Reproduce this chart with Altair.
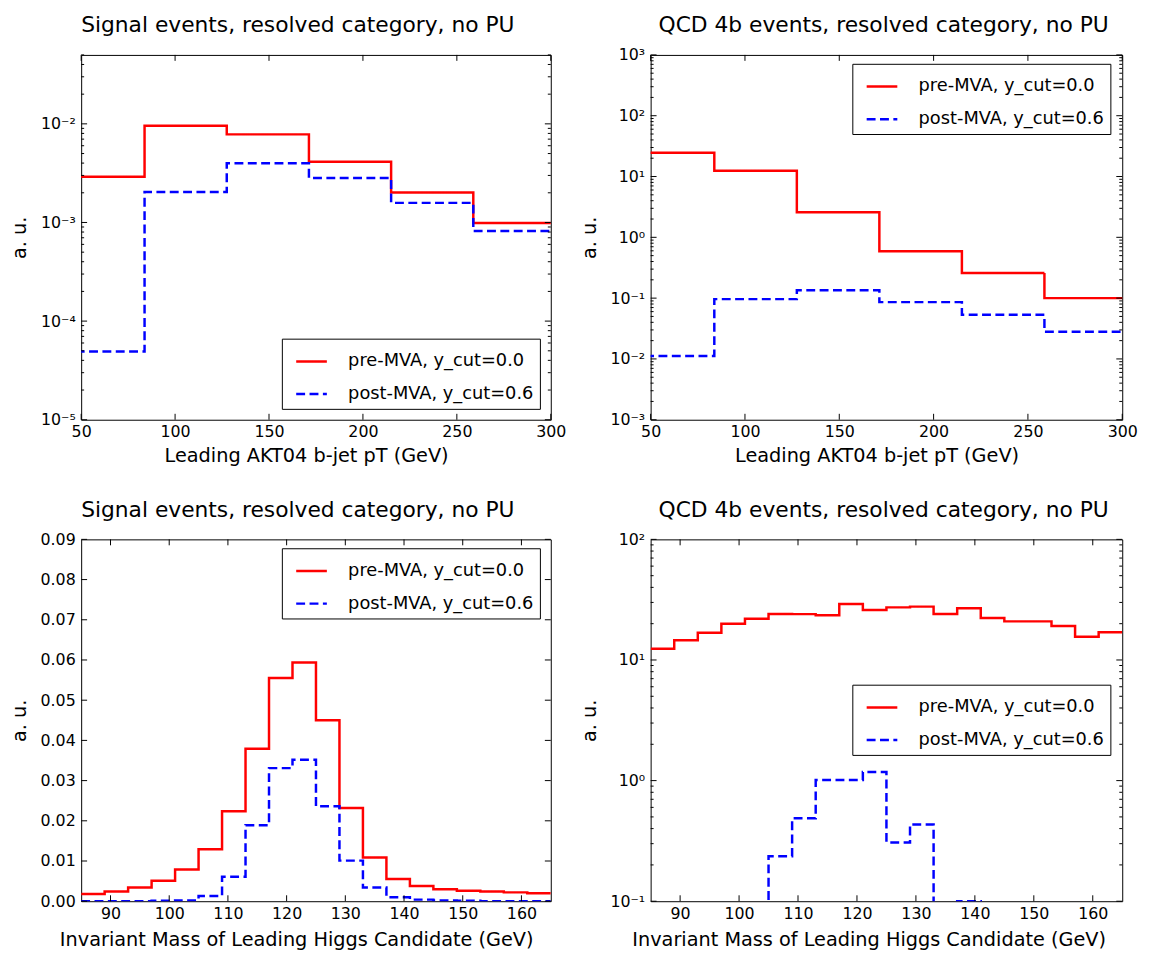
import altair as alt
import pandas as pd

FONT = "DejaVu Sans"
PRE = "pre-MVA, y_cut=0.0"
POST = "post-MVA, y_cut=0.6"
SERIES = [PRE, POST]
COLORS = ["#ff0000", "#0000ff"]
DASHES = [[1, 0], [9, 4.5]]

# ---- data ----
pt_edges = [40.0, 83.75, 127.5, 171.25, 215.0, 258.75, 302.5]
sig_pt_pre = [0.00291, 0.00955, 0.00782, 0.00412, 0.00201, 0.00099]
sig_pt_post = [0.0000492, 0.00204, 0.00399, 0.00282, 0.00158, 0.00082]
qcd_pt_pre = [24.6, 12.4, 2.59, 0.59, 0.259, 0.100]
qcd_pt_post = [0.0112, 0.0963, 0.135, 0.086, 0.0535, 0.0279]

m_edges = [85, 89, 93, 97, 101, 105, 109, 113, 117, 121, 125,
           129, 133, 137, 141, 145, 149, 153, 157, 161, 165]
sig_m_pre = [0.0018, 0.0024, 0.0034, 0.0051, 0.0079, 0.0129, 0.0224, 0.0379,
             0.0555, 0.0594, 0.0450, 0.0232, 0.0109, 0.0055, 0.0038, 0.0030,
             0.0026, 0.0024, 0.0022, 0.0020]
sig_m_post = [0.0, 0.0, 0.0, 0.0001, 0.0002, 0.0013, 0.0061, 0.0189, 0.0331,
              0.0352, 0.0236, 0.0101, 0.0034, 0.0010, 0.0004, 0.0002, 0.0001,
              0.0, 0.0, 0.0]
qcd_m_pre = [12.4, 14.6, 16.8, 20.0, 22.0, 24.1, 24.0, 23.5, 29.1, 26.0, 27.3,
             27.7, 24.1, 26.8, 22.3, 20.9, 20.9, 19.1, 15.6, 17.0]
qcd_m_post = [0.0, 0.0, 0.0, 0.0, 0.0, 0.236, 0.487, 1.01, 1.01, 1.18, 0.307,
              0.433, 0.0, 0.1, 0.0, 0.0, 0.0, 0.0, 0.0, 0.0]

# tick positions
pt_ticks = [50, 100, 150, 200, 250, 300]
m_ticks = [90, 100, 110, 120, 130, 140, 150, 160]
lin_y_ticks = [0.0, 0.01, 0.02, 0.03, 0.04, 0.05, 0.06, 0.07, 0.08, 0.09]


def decades(lo, hi):
    return [10.0 ** e for e in range(lo, hi + 1)]


def minors(lo, hi, top):
    return [k * 10.0 ** e for e in range(lo, hi) for k in range(2, 10) if k * 10.0 ** e <= top]


SUP_EXPR = ("'10' + replace(replace(replace(replace(replace(replace(replace("
            "toString(round(log(datum.value)/LN10)),'-','\u207b'),'0','\u2070'),"
            "'1','\u00b9'),'2','\u00b2'),'3','\u00b3'),'4','\u2074'),'5','\u2075')")


def step_df(edges, vals, name, floor):
    v = [x if x > 0 else floor for x in vals]
    xs = list(edges[:len(v)]) + [edges[len(v)]]
    ys = v + [v[-1]]
    return pd.DataFrame({"x": xs, "y": ys, "series": [name] * len(xs)})


def panel(edges, pre, post, xdom, ydom, logy, xvals, ymaj, ymin, xtitle, title,
          W, H, lx, ly, tdx, tdy, floor, xt_shift, xt_pad):
    xs = alt.Scale(domain=xdom, nice=False, zero=False)
    ys = alt.Scale(type="log" if logy else "linear", domain=ydom, nice=False, zero=False)
    common = dict(ticks=False, domain=False, grid=False, labelFont=FONT, labelFontSize=16,
                  labelColor="black", titleFont=FONT, titleFontSize=19.5,
                  titleFontWeight="normal", titleColor="black", labelFlush=False,
                  labelOverlap=False, labelBound=False)
    xaxis = alt.Axis(values=xvals, title=xtitle, labelPadding=4, titlePadding=xt_pad,
                     titleX=W / 2 + xt_shift, titleAnchor="middle",
                     minExtent=20, maxExtent=20, **common)
    if logy:
        yaxis = alt.Axis(values=ymaj, labelExpr=SUP_EXPR, title="a. u.", labelPadding=6,
                         titlePadding=10, minExtent=42, maxExtent=42, **common)
    else:
        yaxis = alt.Axis(values=ymaj, format=".2f", title="a. u.", labelPadding=6,
                         titlePadding=10, minExtent=42, maxExtent=42, **common)
    leg = alt.Legend(orient="none", legendX=lx, legendY=ly, title=None,
                     symbolType="stroke", symbolSize=961, symbolStrokeWidth=2.5,
                     labelFont=FONT, labelFontSize=18, labelColor="black", labelLimit=500,
                     padding=6, symbolOffset=7, labelOffset=20, rowPadding=7,
                     strokeColor="black", fillColor="white", cornerRadius=0)
    cenc = alt.Color("series:N", scale=alt.Scale(domain=SERIES, range=COLORS), legend=leg)
    denc = alt.StrokeDash("series:N", scale=alt.Scale(domain=SERIES, range=DASHES), legend=leg)
    X = alt.X("x:Q", scale=xs, axis=xaxis)
    Y = alt.Y("y:Q", scale=ys, axis=yaxis)

    layers = []
    for name, vals in ((PRE, pre), (POST, post)):
        layers.append(
            alt.Chart(step_df(edges, vals, name, floor))
            .mark_line(clip=True, strokeWidth=2.5, interpolate="step-after")
            .encode(x=X, y=Y, color=cenc, strokeDash=denc)
        )

    def rules(vals, along, L):
        d = pd.DataFrame({"x": vals, "y": vals})
        base = alt.Chart(d).mark_rule(color="black", strokeWidth=1)
        if along == "y":
            return [base.encode(y=Y, x=alt.value(0), x2=alt.value(L)),
                    base.encode(y=Y, x=alt.value(W - L), x2=alt.value(W))]
        return [base.encode(x=X, y=alt.value(H - L), y2=alt.value(H)),
                base.encode(x=X, y=alt.value(0), y2=alt.value(L))]

    layers += rules(xvals, "x", 6)
    layers += rules(ymaj, "y", 6)
    if ymin:
        layers += rules(ymin, "y", 3)

    return alt.layer(*layers).properties(
        width=W, height=H,
        title=alt.TitleParams(title, anchor="start", frame="group", dx=tdx, dy=tdy, offset=0,
                              fontSize=22, font=FONT, fontWeight="normal", color="black",
                              baseline="alphabetic"),
    )


PT_TITLE = "Leading AKT04 b-jet pT (GeV)"
M_TITLE = "Invariant Mass of Leading Higgs Candidate (GeV)"

tl = panel(pt_edges, sig_pt_pre, sig_pt_post, [50, 300], [1e-5, 0.05], True, pt_ticks,
           decades(-5, -2), minors(-5, -1, 0.05), PT_TITLE,
           "Signal events, resolved category, no PU", 475, 369, 203, 287, 0, -1, 1e-7,
           -10, 7)
tr = panel(pt_edges, qcd_pt_pre, qcd_pt_post, [50, 300], [1e-3, 1e3], True, pt_ticks,
           decades(-3, 3), minors(-3, 3, 1e3), PT_TITLE,
           "QCD 4b events, resolved category, no PU", 477, 369, 204, 9, 8, 7, 1e-5,
           -10, 7)
bl = panel(m_edges, sig_m_pre, sig_m_post, [85, 165], [0, 0.09], False, m_ticks,
           lin_y_ticks, None, M_TITLE,
           "Signal events, resolved category, no PU", 475, 366, 203, 9, 0, 7, 0.0,
           -20, 10)
br = panel(m_edges, qcd_m_pre, qcd_m_post, [85, 165], [0.1, 100], True, m_ticks,
           decades(-1, 2), minors(-1, 2, 100), M_TITLE,
           "QCD 4b events, resolved category, no PU", 477, 366, 204, 147, 8, 7, 1e-3,
           -18, 10)

chart = (
    alt.concat(tl, tr, bl, br, columns=2, spacing={"row": 121, "column": 101}, bounds="flush")
    .resolve_scale(x="independent", y="independent", color="independent",
                   strokeDash="independent")
    .configure_view(stroke="black", strokeWidth=1)
    .properties(padding={"left": 1, "top": 0, "right": 5, "bottom": 5}, background="white")
)

chart.save("out.html", embed_options={"renderer": "svg", "actions": False})
